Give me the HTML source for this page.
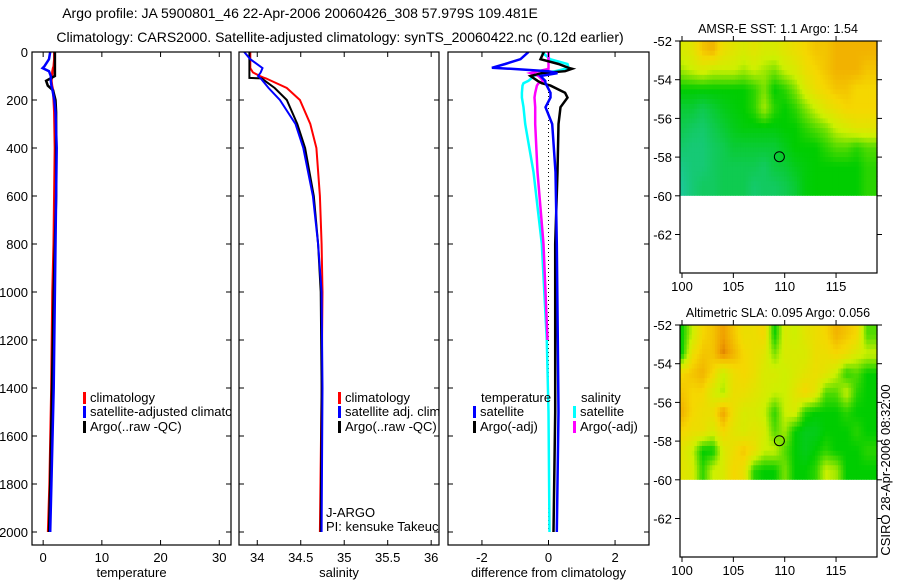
<!DOCTYPE html>
<html><head><meta charset="utf-8"><style>
body{margin:0;background:#fff;}
svg{display:block;font-family:"Liberation Sans",sans-serif;}
</style></head><body>
<svg id="fig" width="900" height="580" xmlns="http://www.w3.org/2000/svg">
<text x="300" y="18" font-size="14" text-anchor="middle">Argo profile: JA 5900801_46 22-Apr-2006 20060426_308 57.979S 109.481E</text>
<text x="340" y="42" font-size="14" text-anchor="middle">Climatology: CARS2000. Satellite-adjusted climatology: synTS_20060422.nc (0.12d earlier)</text>
<g id="g"></g>
</svg>
<script>
// ---- profile data ----
const tDepth = [0,30,60,67,80,100,120,140,160,200,250,400,600,800,1000,1400,1800,2000];
const tClim  = [1.9,1.9,1.8,1.7,1.6,1.5,1.4,1.5,1.7,1.8,1.9,2.0,1.9,1.8,1.6,1.4,1.1,0.85];
const tSat   = [1.2,1.0,0.2,-0.1,1.0,1.3,1.3,1.4,1.6,1.9,2.1,2.3,2.2,2.1,2.0,1.8,1.4,1.2];
const tArgo  = [2.0,2.0,2.0,2.0,2.0,2.0,0.5,0.8,1.7,2.1,2.2,2.2,2.2,2.0,1.8,1.5,1.2,1.0];
const sDepth = [0,30,67,85,100,108,110,150,200,300,400,600,800,1000,1400,2000];
const sClim  = [33.92,33.92,33.92,33.95,34.03,34.08,34.10,34.34,34.49,34.61,34.68,34.72,34.74,34.75,34.74,34.72];
const sSat   = [33.85,33.92,34.06,34.04,34.01,34.03,34.04,34.13,34.26,34.44,34.53,34.64,34.70,34.74,34.75,34.74];
const sArgo  = [33.91,33.91,33.91,33.91,33.91,33.91,34.05,34.20,34.34,34.46,34.55,34.65,34.70,34.73,34.74,34.73];
const dDepth = [0,30,50,66,70,80,88,100,120,130,140,170,190,230,300,500,800,1200,1500,2000];
const dTSat  = [-0.6,-0.84,-1.3,-1.7,-1.14,0.0,0.27,-0.24,-0.1,-0.09,-0.05,0.06,0.06,-0.09,0.11,0.21,0.25,0.28,0.3,0.25];
const dTArgo = [-0.14,-0.24,0.3,0.6,0.71,0.5,-0.2,-0.54,-0.33,-0.2,0.06,0.5,0.57,0.36,0.3,0.27,0.2,0.2,0.2,0.15];
const dSSat  = [-0.2,0.05,0.57,0.6,0.5,0.2,-0.2,-0.44,-0.6,-0.75,-0.78,-0.8,-0.8,-0.75,-0.7,-0.45,-0.2,-0.05,0.0,0.03];
const dSArgo = [0.0,0.0,0.0,0.0,0.0,-0.3,-0.54,-0.3,-0.15,-0.3,-0.35,-0.4,-0.42,-0.4,-0.4,-0.33,-0.15,-0.03,null,null];
const depthTicks = [0,200,400,600,800,1000,1200,1400,1600,1800,2000];
const tTicks = [0,10,20,30];
const sTicks = [34,34.5,35,35.5,36];
const dTicks = [-2,0,2];
// ---- map data (1-degree cells, 100..118E, rows -52..-60) ----
const lonTicks = [100,105,110,115];
const latTicks = [-52,-54,-56,-58,-60,-62];
const sstGrid = [
[0.6,0.65,0.8,0.85,0.7,0.65,0.6,0.65,0.6,0.6,0.65,0.7,0.75,0.8,0.8,0.85,0.85,0.85,0.85],
[0.5,0.55,0.6,0.55,0.55,0.55,0.5,0.55,0.5,0.45,0.55,0.6,0.7,0.75,0.8,0.85,0.85,0.85,0.8],
[0.3,0.3,0.3,0.3,0.3,0.3,0.3,0.35,0.45,0.3,0.35,0.45,0.6,0.7,0.75,0.8,0.8,0.75,0.75],
[0.2,0.2,0.15,0.2,0.25,0.28,0.3,0.35,0.5,0.35,0.3,0.35,0.45,0.55,0.65,0.7,0.75,0.75,0.75],
[0.15,0.12,0.1,0.15,0.2,0.25,0.28,0.28,0.28,0.28,0.3,0.3,0.35,0.4,0.45,0.55,0.6,0.65,0.65],
[0.1,0.08,0.08,0.12,0.15,0.2,0.2,0.2,0.2,0.2,0.25,0.3,0.3,0.3,0.35,0.4,0.4,0.35,0.4],
[0.05,0.08,0.08,0.12,0.15,0.15,0.15,0.15,0.12,0.18,0.2,0.25,0.28,0.3,0.3,0.3,0.3,0.3,0.35],
[0.02,0.08,0.12,0.12,0.15,0.15,0.15,0.1,0.12,0.12,0.15,0.2,0.28,0.3,0.3,0.3,0.3,0.3,0.35]];
const slaGrid = [
[0.3,0.55,0.75,0.8,0.9,0.8,0.7,0.7,0.75,0.3,0.6,0.55,0.65,0.7,0.75,0.85,0.8,0.75,0.4],
[0.3,0.7,0.8,0.8,0.95,0.85,0.75,0.7,0.65,0.45,0.6,0.6,0.6,0.7,0.7,0.75,0.7,0.6,0.55],
[0.75,0.8,0.85,0.75,0.55,0.7,0.75,0.7,0.6,0.6,0.55,0.6,0.65,0.7,0.65,0.55,0.35,0.4,0.3],
[0.8,0.75,0.75,0.6,0.5,0.7,0.7,0.65,0.6,0.55,0.55,0.65,0.75,0.65,0.4,0.4,0.55,0.35,0.3],
[0.85,0.75,0.7,0.7,0.9,0.7,0.6,0.6,0.55,0.35,0.55,0.6,0.35,0.3,0.3,0.3,0.35,0.3,0.3],
[0.75,0.7,0.7,0.6,0.75,0.65,0.6,0.65,0.6,0.4,0.5,0.3,0.25,0.25,0.3,0.3,0.3,0.35,0.3],
[0.65,0.55,0.3,0.3,0.6,0.7,0.8,0.7,0.55,0.55,0.4,0.3,0.25,0.3,0.35,0.3,0.3,0.3,0.35],
[0.65,0.6,0.35,0.55,0.6,0.75,0.7,0.35,0.3,0.3,0.45,0.3,0.3,0.35,0.55,0.5,0.3,0.3,0.3]];
const argoLon = [109.48];
const argoLat = [-57.98];

const NS="http://www.w3.org/2000/svg";
const G=document.getElementById('g');
function mk(tag,attrs,parent){const e=document.createElementNS(NS,tag);for(const k in attrs)e.setAttribute(k,attrs[k]);(parent||G).appendChild(e);return e;}
function txt(s,x,y,attrs,parent){const e=mk('text',Object.assign({x:x,y:y,'font-size':13},attrs||{}),parent);e.textContent=s;return e;}

const PT=52, PB=545, D0=52, DK=0.24;
const yD=d=>D0+d*DK;
let clipN=0;

function panel(name,x0,x1,xmin,xmax,xticks,xlabel,showY){
  const g=mk('g',{},G);
  
  
  const sx=v=>x0+(v-xmin)/(xmax-xmin)*(x1-x0);
  const id='pc'+(clipN++);
  const cp=mk('clipPath',{id:id},mk('defs',{},g));
  mk('rect',{x:x0,y:PT,width:x1-x0,height:PB-PT},cp);
  const inner=mk('g',{'clip-path':'url(#'+id+')'},g);
  const fr=mk('rect',{x:x0,y:PT,width:x1-x0,height:PB-PT,fill:'none',stroke:'#000','stroke-width':1.2},g);
  
  
  depthTicks.forEach(d=>{
    const y=yD(d);
    mk('line',{x1:x0,x2:x0+5,y1:y,y2:y,stroke:'#000'},g);
    mk('line',{x1:x1,x2:x1-5,y1:y,y2:y,stroke:'#000'},g);
    if(showY){const t=txt(String(d),x0-4,y+5,{'text-anchor':'end'},g);
      
      }
  });
  xticks.forEach(v=>{
    const x=sx(v);
    mk('line',{x1:x,x2:x,y1:PB,y2:PB-5,stroke:'#000'},g);
    mk('line',{x1:x,x2:x,y1:PT,y2:PT+5,stroke:'#000'},g);
    const t=txt(String(v),x,PB+17,{'text-anchor':'middle'},g);
    
    
  });
  const xl=txt(xlabel,(x0+x1)/2,PB+32,{'text-anchor':'middle'},g);
  
  
  return {g:inner,sx};
}
function line(p,depths,vals,color,w,name){
  let d='';let pen=false;
  for(let i=0;i<depths.length;i++){
    if(vals[i]===null){pen=false;continue;}
    d+=(pen?'L':'M')+p.sx(vals[i]).toFixed(1)+','+yD(depths[i]).toFixed(1);pen=true;
  }
  const e=mk('path',{d:d,fill:'none',stroke:color,'stroke-width':w},p.g);
  
  
}
function legend(parent,x,y,color,label,name){
  if(color){mk('rect',{x:x,y:y-10,width:3,height:12,fill:color},parent);}
  const t=txt(label,x+7,y,{},parent);
  
  
}

const p1=panel('temperature-panel',32,231,-1.9,32,tTicks,'temperature',true);
line(p1,tDepth,tClim,'#f00',2.5,'temp-climatology-line');
line(p1,tDepth,tArgo,'#000',2.5,'temp-argo-line');
line(p1,tDepth,tSat,'#00f',2.5,'temp-satellite-line');
legend(p1.g,83,402,'#f00','climatology','legend-climatology');
legend(p1.g,83,416,'#00f','satellite-adjusted climatology','legend-satellite');
legend(p1.g,83,431,'#000','Argo(..raw -QC)','legend-argo');

const p2=panel('salinity-panel',239,439,33.79,36.09,sTicks,'salinity',false);
line(p2,sDepth,sClim,'#f00',2,'sal-climatology-line');
line(p2,sDepth,sArgo,'#000',2,'sal-argo-line');
line(p2,sDepth,sSat,'#00f',2,'sal-satellite-line');
legend(p2.g,338,402,'#f00','climatology','legend-climatology');
legend(p2.g,338,416,'#00f','satellite adj. clim.','legend-satellite');
legend(p2.g,338,431,'#000','Argo(..raw -QC)','legend-argo');
const j1=txt('J-ARGO',326,517,{},p2.g);


const j2=txt('PI: kensuke Takeuchi',326,531,{},p2.g);



const p3=panel('difference-panel',448,649,-3.02,3.02,dTicks,'difference from climatology',false);
mk('line',{x1:p3.sx(0),x2:p3.sx(0),y1:yD(0),y2:yD(2000),stroke:'#000','stroke-dasharray':'1,3'},p3.g);
line(p3,dDepth,dSSat,'#0ff',2.5,'diff-sal-satellite-line');
line(p3,dDepth,dSArgo,'#f0f',2.5,'diff-sal-argo-line');
line(p3,dDepth,dTArgo,'#000',2.5,'diff-temp-argo-line');
line(p3,dDepth,dTSat,'#00f',2.5,'diff-temp-satellite-line');
legend(p3.g,474,402,null,'temperature','legend-temperature-header');
legend(p3.g,473,416,'#00f','satellite','legend-temp-satellite');
legend(p3.g,473,431,'#000','Argo(-adj)','legend-temp-argo');
legend(p3.g,574,402,null,'salinity','legend-salinity-header');
legend(p3.g,573,416,'#0ff','satellite','legend-sal-satellite');
legend(p3.g,573,431,'#f0f','Argo(-adj)','legend-sal-argo');

// colormap
const stops=[[0,[30,200,160]],[0.3,[0,205,0]],[0.55,[205,240,0]],[0.75,[245,215,0]],[0.9,[240,160,0]],[1,[205,95,0]]];
function cmap(v){v=Math.max(0,Math.min(1,v));for(let i=1;i<stops.length;i++){if(v<=stops[i][0]){const a=stops[i-1],b=stops[i];const t=(v-a[0])/(b[0]-a[0]);const c=a[1].map((q,k)=>Math.round(q+(b[1][k]-q)*t));return 'rgb('+c.join(',')+')';}}return 'rgb(205,95,0)';}
function sample(grid,r,c){
  const R=grid.length-1,C=grid[0].length-1;
  r=Math.max(0,Math.min(R,r));c=Math.max(0,Math.min(C,c));
  const r0=Math.floor(r),c0=Math.floor(c),r1=Math.min(R,r0+1),c1=Math.min(C,c0+1),fr=r-r0,fc=c-c0;
  return grid[r0][c0]*(1-fr)*(1-fc)+grid[r0][c1]*(1-fr)*fc+grid[r1][c0]*fr*(1-fc)+grid[r1][c1]*fr*fc;
}

function map(name,top,title,grid){
  const x0=680,x1=877,bot=top+232;
  const sx=v=>682+(v-100)*10.27;
  const sy=v=>top+(-52-v)*19.35;
  const g=mk('g',{},G);
  
  
  const step=0.25;
  const nRows=Math.round(8/step);
  for(let i=0;i<nRows;i++){
    const lat=-52-i*step;
    for(let lon=99.7;lon<119.05;lon+=step){
      const r=(-52-(lat-step/2))-0.5, c=(lon+step/2)-100;
      const v=sample(grid,r,c);
      const x=Math.max(x0,sx(lon)), xe=Math.min(x1,sx(lon+step));
      if(xe<=x)continue;
      const h=(i===nRows-1)?step*19.35:step*19.35+0.6;
      const e=mk('rect',{x:x.toFixed(2),y:sy(lat).toFixed(2),width:(xe-x+0.6).toFixed(2),height:h.toFixed(2),fill:cmap(v)},g);
      
      
    }
  }
  const fr=mk('rect',{x:x0,y:top,width:x1-x0,height:bot-top,fill:'none',stroke:'#000','stroke-width':1.2},g);
  
  
  latTicks.forEach(v=>{const y=sy(v);
    mk('line',{x1:x0,x2:x0-5,y1:y,y2:y,stroke:'#000'},g);
    mk('line',{x1:x1,x2:x1+5,y1:y,y2:y,stroke:'#000'},g);
    const t=txt(String(v),x0-8,y+5,{'text-anchor':'end'},g);
    
    });
  lonTicks.forEach(v=>{const x=sx(v);
    mk('line',{x1:x,x2:x,y1:bot,y2:bot+5,stroke:'#000'},g);
    mk('line',{x1:x,x2:x,y1:top,y2:top-5,stroke:'#000'},g);
    const t=txt(String(v),x,bot+18,{'text-anchor':'middle'},g);
    
    });
  const c=mk('circle',{cx:sx(argoLon[0]),cy:sy(argoLat[0]),r:5,fill:'none',stroke:'#000','stroke-width':1},g);
  
  
  const tt=txt(title,778,top-8,{'text-anchor':'middle','font-size':12.5},g);
  
  
}
map('sst-map',41,'AMSR-E SST: 1.1 Argo: 1.54',sstGrid);
map('sla-map',325,'Altimetric SLA: 0.095 Argo: 0.056',slaGrid);
const cs=txt('CSIRO 28-Apr-2006 08:32:00',890,470,{'text-anchor':'middle','font-size':13,transform:'rotate(-90 890 470)'});


</script>
</body></html>
